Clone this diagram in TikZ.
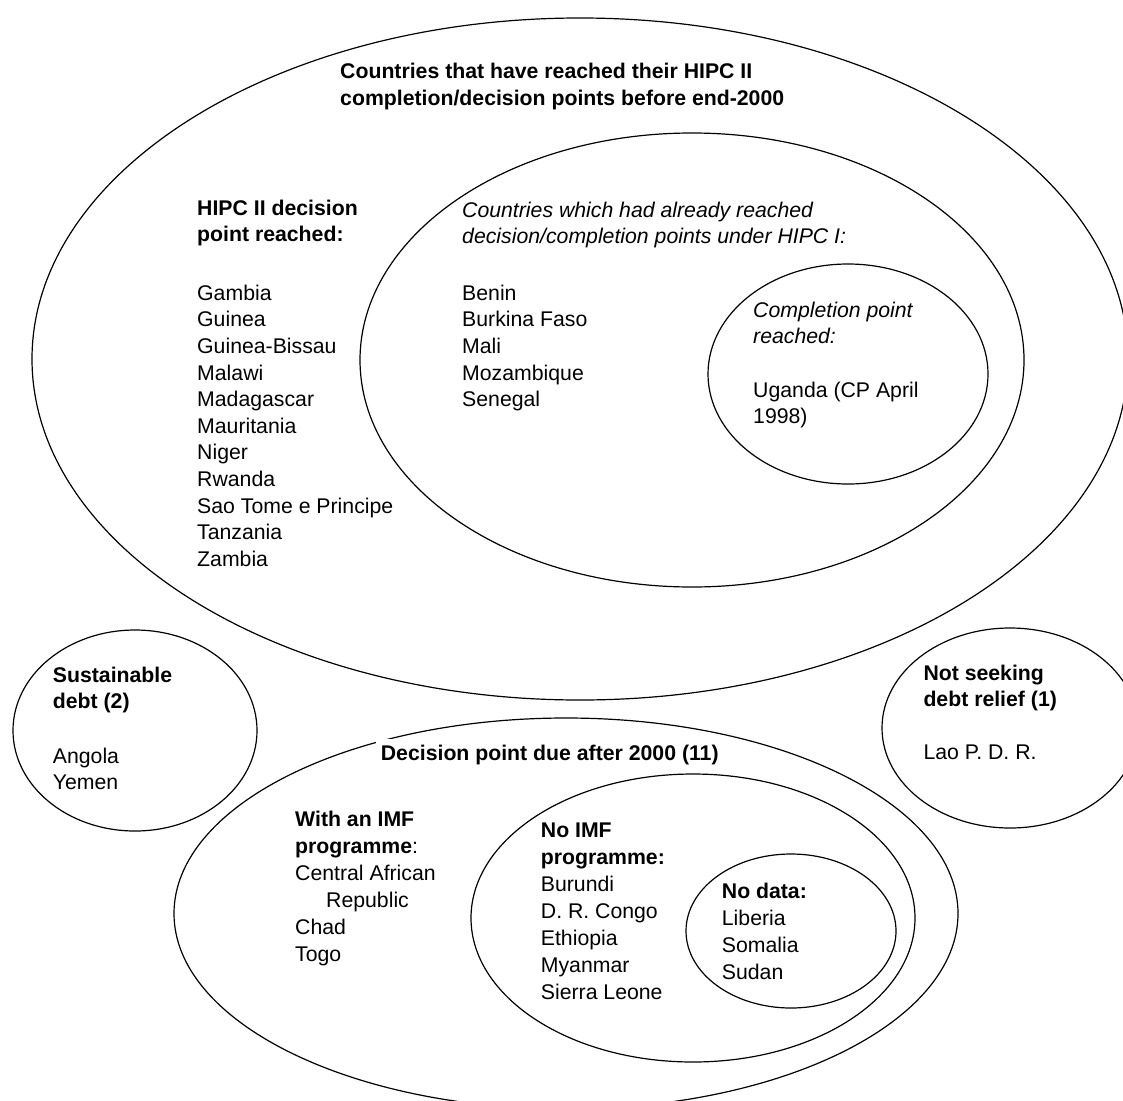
\documentclass[tikz,border=0pt]{standalone}
\usepackage{fontspec}
\setmainfont{Liberation Sans}
\newcommand\diagfs{\fontsize{21.25}{26.6}\selectfont}
\begin{document}
\begin{tikzpicture}[x=1pt,y=-1pt,
  ring/.style={line width=1.2pt},
  lbl/.style={anchor=base west, inner sep=0pt, align=left, font=\diagfs}]
\useasboundingbox (0,0) rectangle (1123,1100);
\clip (0,0) rectangle (1123,1100);
\fill[white] (0,0) rectangle (1123,1100);
% ellipses
\draw[ring] (580,359) ellipse [x radius=548pt, y radius=341pt];
\draw[ring] (692,360) ellipse [x radius=332pt, y radius=227pt];
\draw[ring] (848,374) ellipse [x radius=140pt, y radius=110pt];
\draw[ring] (135,730.5) ellipse [x radius=122pt, y radius=100.5pt];
\draw[ring] (1010,728) ellipse [x radius=128pt, y radius=100pt];
\draw[ring] (566,913.5) ellipse [x radius=392pt, y radius=195.5pt];
\draw[ring] (693,918) ellipse [x radius=222pt, y radius=144pt];
\draw[ring] (791,931) ellipse [x radius=105pt, y radius=77pt];
% texts (anchored at the baseline of their last line)
\node[lbl] (title) at (340,105.5) {\textbf{Countries that have reached their HIPC II}\\[0.9pt]\textbf{completion/decision points before end-2000}};
\node[lbl] (hipc2) at (197,566.2) {\textbf{HIPC II decision}\\\textbf{point reached:}\\[32pt]Gambia\\Guinea\\Guinea-Bissau\\Malawi\\Madagascar\\Mauritania\\Niger\\Rwanda\\Sao Tome e Principe\\Tanzania\\Zambia};
\node[lbl] (hipc1) at (462,406.6) {\textit{Countries which had already reached}\\\textit{decision/completion points under HIPC I:}\\[30pt]Benin\\Burkina Faso\\Mali\\Mozambique\\Senegal};
\node[lbl] (cp) at (753,423.8) {\textit{Completion point}\\\textit{reached:}\\[27pt]Uganda (CP April\\1998)};
\node[lbl] (sust) at (52.7,789.8) {\textbf{Sustainable}\\\textbf{debt (2)}\\[28pt]Angola\\Yemen};
\node[lbl] (notseek) at (923.3,759.8) {\textbf{Not seeking}\\\textbf{debt relief (1)}\\[26.6pt]Lao P. D. R.};
\node[lbl, fill=white, inner xsep=4.5pt, inner ysep=6pt] (due) at (376.2,760.7) {\textbf{Decision point due after 2000 (11)}};
\node[lbl] (withimf) at (295,961.7) {\textbf{With an IMF}\\[0.4pt]\textbf{programme}:\\[0.4pt]Central African\\[0.4pt]\hspace*{31pt}Republic\\[0.4pt]Chad\\[0.4pt]Togo};
\node[lbl] (noimf) at (540.7,999.3) {\textbf{No IMF}\\[0.4pt]\textbf{programme:}\\[0.4pt]Burundi\\[0.4pt]D. R. Congo\\[0.4pt]Ethiopia\\[0.4pt]Myanmar\\[0.4pt]Sierra Leone};
\node[lbl] (nodata) at (721.7,979.3) {\textbf{No data:}\\[0.4pt]Liberia\\[0.4pt]Somalia\\[0.4pt]Sudan};
\end{tikzpicture}
\end{document}
